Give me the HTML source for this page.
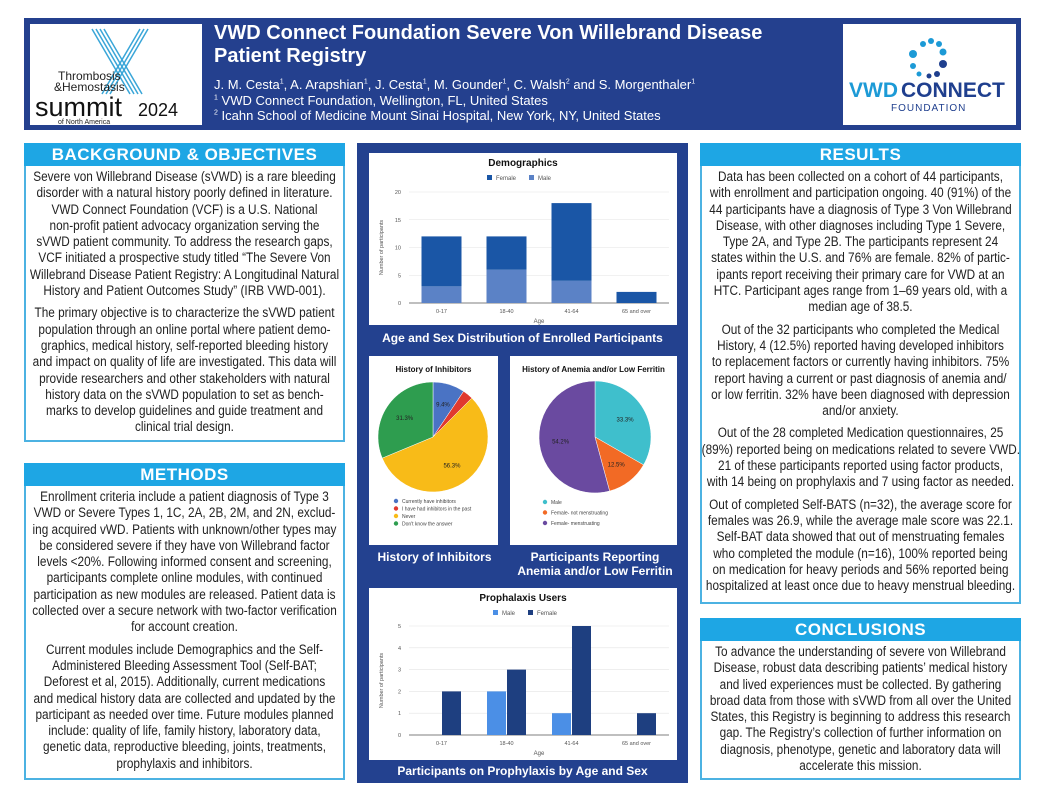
<!DOCTYPE html>
<html><head><meta charset="utf-8">
<style>
body{margin:0;width:1044px;height:807px;background:#fff;position:relative;overflow:hidden;font-family:"Liberation Sans",sans-serif;}
.abs{position:absolute;}
.hd{position:absolute;background:#1ea6e4;color:#fff;font-family:"Liberation Sans",sans-serif;font-weight:bold;font-size:17px;text-align:center;line-height:23px;letter-spacing:0.5px;}
.box{position:absolute;border:2px solid #4cb2e2;border-top:none;background:#fff;color:#222;font-size:13.4px;line-height:16.3px;text-align:center;box-sizing:border-box;padding-top:3px;white-space:nowrap;overflow:hidden;}
.inner{width:361px;margin-left:-22px;transform:scaleX(0.88);transform-origin:50% 0;}
.box p{margin:0 0 6px 0;}
.panel{position:absolute;background:#23418f;}
.cap{position:absolute;color:#fff;font-family:"Liberation Sans",sans-serif;font-weight:bold;font-size:12px;text-align:center;line-height:14px;}
svg text{font-family:"Liberation Sans",sans-serif;}
sup{font-size:7px;line-height:0;}
</style></head><body>
<div class="abs" style="left:24px;top:18px;width:997px;height:112px;background:#24408e;"></div>
<div class="abs" style="left:30px;top:24px;width:172px;height:101px;background:#fff;">
 <svg width="172" height="101"><g stroke="#3aa6d8" stroke-width="1.5" fill="none">
 <path d="M62 5 L100 70 M66 5 L104 70 M70 5 L108 70 M74 5 L112 70"/><path d="M110 5 L72 70 M114 5 L76 70 M118 5 L80 70"/></g>
 <text x="28" y="56" font-size="12" fill="#222">Thrombosis</text><text x="24" y="67" font-size="12" fill="#222">&amp;Hemostasis</text>
 <text x="5" y="92" font-size="27" fill="#111">summit</text><text x="108" y="92" font-size="18" fill="#111">2024</text>
 <text x="28" y="100" font-size="7" fill="#222">of North America</text></svg></div>
<div class="abs" style="left:214px;top:22px;color:#fff;font-family:'Liberation Sans',sans-serif;font-weight:bold;font-size:20px;line-height:23px;">VWD Connect Foundation Severe Von Willebrand Disease<br>Patient Registry</div>
<div class="abs" style="left:214px;top:77px;color:#fff;font-size:13px;line-height:15.5px;white-space:nowrap;">J. M. Cesta<sup>1</sup>, A. Arapshian<sup>1</sup>, J. Cesta<sup>1</sup>, M. Gounder<sup>1</sup>, C. Walsh<sup>2</sup> and S. Morgenthaler<sup>1</sup><br><sup>1</sup> VWD Connect Foundation, Wellington, FL, United States<br><sup>2</sup> Icahn School of Medicine Mount Sinai Hospital, New York, NY, United States</div>
<div class="abs" style="left:843px;top:24px;width:173px;height:101px;background:#fff;">
 <svg width="173" height="101"><g fill="#1c9ad6"><circle cx="80" cy="20" r="3"/><circle cx="88" cy="17" r="3"/><circle cx="96" cy="20" r="3"/><circle cx="100" cy="28" r="3.5"/><circle cx="70" cy="30" r="4"/><circle cx="70" cy="42" r="3"/><circle cx="76" cy="50" r="2.5"/></g><g fill="#1f3f8e"><circle cx="100" cy="40" r="4"/><circle cx="94" cy="50" r="3"/><circle cx="86" cy="52" r="2.5"/></g>
 <text x="6" y="73" font-size="21" font-weight="bold" fill="#1c9ad6">VWD</text><text x="58" y="73" font-size="21" font-weight="bold" fill="#1f3f8e">CONNECT</text>
 <text x="48" y="87" font-size="10" fill="#1f3f8e" letter-spacing="1">FOUNDATION</text></svg></div>

<div class="hd" style="left:24px;top:143px;width:321px;">BACKGROUND &amp; OBJECTIVES</div>
<div class="box" style="left:24px;top:166px;width:321px;height:276px;"><div class="inner">
<p>Severe von Willebrand Disease (sVWD) is a rare bleeding<br>disorder with a natural history poorly defined in literature.<br>VWD Connect Foundation (VCF) is a U.S. National<br>non-profit patient advocacy organization serving the<br>sVWD patient community. To address the research gaps,<br>VCF initiated a prospective study titled “The Severe Von<br>Willebrand Disease Patient Registry: A Longitudinal Natural<br>History and Patient Outcomes Study” (IRB VWD-001).</p>
<p>The primary objective is to characterize the sVWD patient<br>population through an online portal where patient demo-<br>graphics, medical history, self-reported bleeding history<br>and impact on quality of life are investigated. This data will<br>provide researchers and other stakeholders with natural<br>history data on the sVWD population to set as bench-<br>marks to develop guidelines and guide treatment and<br>clinical trial design.</p></div></div>

<div class="hd" style="left:24px;top:463px;width:321px;">METHODS</div>
<div class="box" style="left:24px;top:486px;width:321px;height:294px;"><div class="inner">
<p>Enrollment criteria include a patient diagnosis of Type 3<br>VWD or Severe Types 1, 1C, 2A, 2B, 2M, and 2N, exclud-<br>ing acquired vWD. Patients with unknown/other types may<br>be considered severe if they have von Willebrand factor<br>levels &lt;20%. Following informed consent and screening,<br>participants complete online modules, with continued<br>participation as new modules are released. Patient data is<br>collected over a secure network with two-factor verification<br>for account creation.</p>
<p>Current modules include Demographics and the Self-<br>Administered Bleeding Assessment Tool (Self-BAT;<br>Deforest et al, 2015). Additionally, current medications<br>and medical history data are collected and updated by the<br>participant as needed over time. Future modules planned<br>include: quality of life, family history, laboratory data,<br>genetic data, reproductive bleeding, joints, treatments,<br>prophylaxis and inhibitors.</p></div></div>

<div class="hd" style="left:700px;top:143px;width:321px;">RESULTS</div>
<div class="box" style="left:700px;top:166px;width:321px;height:438px;"><div class="inner">
<p>Data has been collected on a cohort of 44 participants,<br>with enrollment and participation ongoing. 40 (91%) of the<br>44 participants have a diagnosis of Type 3 Von Willebrand<br>Disease, with other diagnoses including Type 1 Severe,<br>Type 2A, and Type 2B. The participants represent 24<br>states within the U.S. and 76% are female. 82% of partic-<br>ipants report receiving their primary care for VWD at an<br>HTC. Participant ages range from 1–69 years old, with a<br>median age of 38.5.</p>
<p>Out of the 32 participants who completed the Medical<br>History, 4 (12.5%) reported having developed inhibitors<br>to replacement factors or currently having inhibitors. 75%<br>report having a current or past diagnosis of anemia and/<br>or low ferritin. 32% have been diagnosed with depression<br>and/or anxiety.</p>
<p>Out of the 28 completed Medication questionnaires, 25<br>(89%) reported being on medications related to severe VWD.<br>21 of these participants reported using factor products,<br>with 14 being on prophylaxis and 7 using factor as needed.</p>
<p>Out of completed Self-BATS (n=32), the average score for<br>females was 26.9, while the average male score was 22.1.<br>Self-BAT data showed that out of menstruating females<br>who completed the module (n=16), 100% reported being<br>on medication for heavy periods and 56% reported being<br>hospitalized at least once due to heavy menstrual bleeding.</p></div></div>

<div class="hd" style="left:700px;top:618px;width:321px;">CONCLUSIONS</div>
<div class="box" style="left:700px;top:641px;width:321px;height:139px;"><div class="inner">
<p>To advance the understanding of severe von Willebrand<br>Disease, robust data describing patients’ medical history<br>and lived experiences must be collected. By gathering<br>broad data from those with sVWD from all over the United<br>States, this Registry is beginning to address this research<br>gap. The Registry’s collection of further information on<br>diagnosis, phenotype, genetic and laboratory data will<br>accelerate this mission.</p></div></div>

<div class="panel" style="left:357px;top:143px;width:331px;height:640px;"></div>
<svg class="abs" id="demo" style="left:369px;top:153px" width="308" height="172"></svg>
<div class="cap" style="left:357px;top:331px;width:331px;">Age and Sex Distribution of Enrolled Participants</div>
<svg class="abs" id="pie1" style="left:369px;top:356px" width="129" height="189"></svg>
<svg class="abs" id="pie2" style="left:510px;top:356px" width="167" height="189"></svg>
<div class="cap" style="left:362px;top:550px;width:145px;">History of Inhibitors</div>
<div class="cap" style="left:505px;top:550px;width:180px;">Participants Reporting<br>Anemia and/or Low Ferritin</div>
<svg class="abs" id="pro" style="left:369px;top:588px" width="308" height="172"></svg>
<div class="cap" style="left:357px;top:764px;width:331px;">Participants on Prophylaxis by Age and Sex</div>

<script>
const NS="http://www.w3.org/2000/svg";
const ageCats=["0-17","18-40","41-64","65 and over"];
const demoFemale=[9,6,14,2];
const demoMale=[3,6,4,0];
const demoTicks=[0,5,10,15,20];
const proMale=[0,2,1,0];
const proFemale=[2,3,5,1];
const proTicks=[0,1,2,3,4,5];
const inhibLabels=["Currently have inhibitors","I have had inhibitors in the past","Never","Don't know the answer"];
const inhibValues=[9.4,3.1,56.3,31.3];
const anemiaLabels=["Male","Female- not menstruating","Female- menstruating"];
const anemiaValues=[33.3,12.5,54.2];
function mk(p,t,a,txt){const e=document.createElementNS(NS,t);for(const k in a)e.setAttribute(k,a[k]);if(txt!==undefined)e.textContent=txt;p.appendChild(e);return e;}
function barChart(id,title,ticks,maxV,series,colors,names,grouped,y0,y1){
 const s=document.getElementById(id);
 mk(s,'rect',{x:0,y:0,width:308,height:172,fill:'#fff'});
 let t=mk(s,'text',{x:154,y:13,'font-size':10,'font-weight':'bold','text-anchor':'middle',fill:'#111'},title);
 names.forEach((n,i)=>{const lx=grouped?128+i*35:122+i*42;
  let r=mk(s,'rect',{x:lx-4,y:22,width:5,height:5,fill:colors[i]});
  let lt=mk(s,'text',{x:lx+5,y:27,'font-size':6,fill:'#555'},n);});
 const x0=40,x1=300;const yS=v=>y0-(v/maxV)*(y0-y1);const bw=(x1-x0)/ageCats.length;
 ticks.forEach(v=>{mk(s,'line',{x1:x0,x2:x1,y1:yS(v),y2:yS(v),stroke:v===0?'#555':'#e3e3e3','stroke-width':v===0?0.8:0.6});
  let tt=mk(s,'text',{x:x0-8,y:yS(v)+2,'font-size':5.5,fill:'#555','text-anchor':'end'},v);});
 let yl=mk(s,'text',{x:14,y:(y0+y1)/2,'font-size':5.5,fill:'#555','text-anchor':'middle',transform:`rotate(-90 14 ${(y0+y1)/2})`},'Number of participants');
 ageCats.forEach((c,i)=>{const cx=x0+bw*(i+0.5);
  let xl=mk(s,'text',{x:cx,y:y0+10,'font-size':5.5,fill:'#555','text-anchor':'middle'},c);
  if(grouped){const w=19;
   [0,1].forEach(k=>{const v=series[k][i];if(!v)return;const r=mk(s,'rect',{x:cx-w+k*(w+1)-0.5,y:yS(v),width:w,height:y0-yS(v),fill:colors[k]});});
  }else{const w=40;let acc=0;
   [1,0].forEach(k=>{const v=series[k][i];if(!v)return;const r=mk(s,'rect',{x:cx-w/2,y:yS(acc+v),width:w,height:yS(acc)-yS(acc+v),fill:colors[k]});acc+=v;});}
 });
 let xa=mk(s,'text',{x:170,y:y0+20,'font-size':6,fill:'#555','text-anchor':'middle'},'Age');
}
barChart('demo','Demographics',demoTicks,20,[demoFemale,demoMale],['#1a56a6','#5b82c6'],['Female','Male'],false,150,39);
barChart('pro','Prophalaxis Users',proTicks,5,[proMale,proFemale],['#4b8fe6','#1e3f80'],['Male','Female'],true,147,38);
function pie(id,title,labels,vals,colors,cx,cy,r,lx,ly,lsp){
 const s=document.getElementById(id);
 mk(s,'rect',{x:0,y:0,width:+s.getAttribute('width'),height:189,fill:'#fff'});
 let t=mk(s,'text',{x:+s.getAttribute('width')/2,y:16,'font-size':8,'font-weight':'bold','text-anchor':'middle',fill:'#111'},title);
 const tot=vals.reduce((a,b)=>a+b,0);let a0=-Math.PI/2;
 vals.forEach((v,i)=>{const a1=a0+v/tot*2*Math.PI;const la=(a1-a0)>Math.PI?1:0;
  const p=mk(s,'path',{d:`M${cx},${cy} L${cx+r*Math.cos(a0)},${cy+r*Math.sin(a0)} A${r},${r} 0 ${la} 1 ${cx+r*Math.cos(a1)},${cy+r*Math.sin(a1)} Z`,fill:colors[i],stroke:'#fff','stroke-width':0.5});
  
  if(v>5){const m=(a0+a1)/2;const tt=mk(s,'text',{x:cx+r*0.62*Math.cos(m),y:cy+r*0.62*Math.sin(m)+2,'font-size':6,fill:'#222','text-anchor':'middle'},v.toFixed(1)+'%');}
  a0=a1;
  const c=mk(s,'circle',{cx:lx,cy:ly+i*lsp,r:2.2,fill:colors[i]});
  const lt=mk(s,'text',{x:lx+6,y:ly+i*lsp+2,'font-size':5,fill:'#444'},labels[i]);});
}
pie('pie1','History of Inhibitors',inhibLabels,inhibValues,['#4a73c4','#e0392f','#f8bb18','#2e9d4f'],64,81,55,27,145,7.5);
pie('pie2','History of Anemia and/or Low Ferritin',anemiaLabels,anemiaValues,['#3fbfcc','#f26a25','#6a4aa0'],85,81,56,35,146,10.5);
</script>
</body></html>
